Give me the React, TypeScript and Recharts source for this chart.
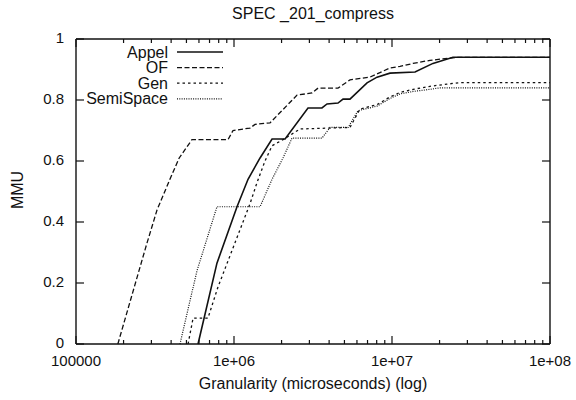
import { LineChart, Line, XAxis, YAxis, ReferenceLine } from 'recharts';

// granularity (microseconds) -> MMU
const appelG = [592000, 780000, 1045000, 1227000, 1462000, 1741000, 2105000, 2940000, 3603000, 3880000, 4552000, 4898000, 5420000, 6950000, 8040000, 9710000, 13990000, 18160000, 24320000, 100000000];
const appelMmu = [0, 0.265, 0.45, 0.54, 0.61, 0.672, 0.672, 0.774, 0.774, 0.787, 0.79, 0.803, 0.803, 0.856, 0.875, 0.888, 0.892, 0.92, 0.94, 0.94];

const ofG = [184000, 281000, 326000, 393000, 450000, 542000, 916000, 986000, 1263000, 1358000, 1690000, 2506000, 3119000, 3404000, 4552000, 5420000, 7260000, 9710000, 11240000, 13590000, 17400000, 25790000, 100000000];
const ofMmu = [0, 0.33, 0.44, 0.54, 0.61, 0.67, 0.67, 0.7, 0.708, 0.72, 0.725, 0.816, 0.823, 0.839, 0.839, 0.866, 0.875, 0.905, 0.91, 0.92, 0.93, 0.94, 0.94];

const genG = [512000, 551000, 684000, 792000, 1263000, 1400000, 1571000, 1741000, 2043000, 2618000, 5420000, 6262000, 8040000, 9710000, 11240000, 13590000, 17400000, 22280000, 26920000, 100000000];
const genMmu = [0, 0.085, 0.085, 0.187, 0.46, 0.53, 0.6, 0.65, 0.67, 0.705, 0.71, 0.77, 0.785, 0.81, 0.825, 0.835, 0.845, 0.852, 0.857, 0.857];

const semiG = [455000, 583000, 780000, 1462000, 1741000, 2043000, 2328000, 3603000, 4057000, 5272000, 6095000, 8040000, 9710000, 11240000, 13590000, 17400000, 20140000, 100000000];
const semiMmu = [0, 0.24, 0.45, 0.45, 0.54, 0.61, 0.675, 0.675, 0.71, 0.71, 0.765, 0.78, 0.805, 0.82, 0.828, 0.835, 0.84, 0.84];

const xMajorTicks = [100000, 1000000, 10000000, 100000000];
const xMajorLabels = ['100000', '1e+06', '1e+07', '1e+08'];
const yTicks = [0, 0.2, 0.4, 0.6, 0.8, 1];
const yLabels = ['0', '0.2', '0.4', '0.6', '0.8', '1'];

const toPoints = (g: number[], m: number[]) => g.map((v, i) => ({ g: v, mmu: m[i] }));

const series = [
  { name: 'Appel', data: toPoints(appelG, appelMmu), dash: undefined, width: 1.6 },
  { name: 'OF', data: toPoints(ofG, ofMmu), dash: '5 2.5', width: 1.3 },
  { name: 'Gen', data: toPoints(genG, genMmu), dash: '2.5 3', width: 1.3 },
  { name: 'SemiSpace', data: toPoints(semiG, semiMmu), dash: '1 1.3', width: 1.2 },
];

// minor log ticks 2..9 in each decade
const xMinorTicks = xMajorTicks.slice(0, 3).flatMap((d) => [2, 3, 4, 5, 6, 7, 8, 9].map((k) => d * k));

const W = 576;
const H = 400;
const PLOT_LEFT = 76;
const PLOT_RIGHT = 550;
const PLOT_TOP = 39;
const PLOT_BOTTOM = 344;
const FONT = '"Liberation Sans", Arial, Helvetica, sans-serif';
const INK = '#111';

const XTick = (props: any) => {
  const { x, payload } = props;
  const idx = xMajorTicks.indexOf(payload.value);
  const len = idx >= 0 ? 8 : 4;
  return (
    <g>
      <line x1={x} x2={x} y1={PLOT_BOTTOM} y2={PLOT_BOTTOM - len} stroke={INK} strokeWidth={1.2} />
      <line x1={x} x2={x} y1={PLOT_TOP} y2={PLOT_TOP + len} stroke={INK} strokeWidth={1.2} />
      {idx >= 0 && (
        <text x={x} y={PLOT_BOTTOM + 21.5} textAnchor="middle" fontSize={15} fontFamily={FONT} fill={INK}>
          {xMajorLabels[idx]}
        </text>
      )}
    </g>
  );
};

const YTick = (props: any) => {
  const { y, payload } = props;
  const idx = yTicks.indexOf(payload.value);
  return (
    <g>
      <line x1={PLOT_LEFT} x2={PLOT_LEFT + 8} y1={y} y2={y} stroke={INK} strokeWidth={1.2} />
      <line x1={PLOT_RIGHT} x2={PLOT_RIGHT - 8} y1={y} y2={y} stroke={INK} strokeWidth={1.2} />
      <text x={PLOT_LEFT - 12} y={y + 4} textAnchor="end" fontSize={15} fontFamily={FONT} fill={INK}>
        {yLabels[idx]}
      </text>
    </g>
  );
};

// gnuplot-style key in the top-left corner of the plot
const KEY_TEXT_X = 168;
const KEY_LINE_X1 = 177;
const KEY_LINE_X2 = 223;
const KEY_TOP = 52;
const KEY_STEP = 15.6;

export default function App() {
  return (
    <div style={{ position: 'absolute', left: 0, top: 0, width: W, height: H, background: '#fff' }}>
      <LineChart width={W} height={H} margin={{ top: PLOT_TOP, right: W - PLOT_RIGHT, bottom: 0, left: 0 }}>
        <XAxis
          dataKey="g"
          type="number"
          scale="log"
          domain={[100000, 100000000]}
          allowDataOverflow
          ticks={[...xMajorTicks, ...xMinorTicks]}
          interval={0}
          tick={<XTick />}
          tickLine={false}
          axisLine={{ stroke: INK, strokeWidth: 1.4 }}
          height={H - PLOT_BOTTOM}
        />
        <YAxis
          type="number"
          domain={[0, 1]}
          ticks={yTicks}
          interval={0}
          tick={<YTick />}
          tickLine={false}
          axisLine={{ stroke: INK, strokeWidth: 1.4 }}
          width={PLOT_LEFT}
        />
        <ReferenceLine y={1} stroke={INK} strokeWidth={1.4} />
        <ReferenceLine x={100000000} stroke={INK} strokeWidth={1.4} />
        {series.map((s) => (
          <Line
            key={s.name}
            data={s.data}
            dataKey="mmu"
            name={s.name}
            type="linear"
            stroke={INK}
            strokeWidth={s.width}
            strokeDasharray={s.dash}
            dot={false}
            activeDot={false}
            isAnimationActive={false}
          />
        ))}
        <g>
          {series.map((s, i) => {
            const cy = KEY_TOP + i * KEY_STEP;
            return (
              <g key={s.name}>
                <text x={KEY_TEXT_X} y={cy + 5.5} textAnchor="end" fontSize={16} fontFamily={FONT} fill={INK}>
                  {s.name}
                </text>
                <line x1={KEY_LINE_X1} x2={KEY_LINE_X2} y1={cy} y2={cy} stroke={INK} strokeWidth={s.width} strokeDasharray={s.dash} />
              </g>
            );
          })}
        </g>
        <text x={(PLOT_LEFT + PLOT_RIGHT) / 2} y={19} textAnchor="middle" fontSize={16} fontFamily={FONT} fill={INK}>
          SPEC _201_compress
        </text>
        <text x={(PLOT_LEFT + PLOT_RIGHT) / 2} y={389} textAnchor="middle" fontSize={16} fontFamily={FONT} fill={INK}>
          Granularity (microseconds) (log)
        </text>
        <text x={23} y={190} textAnchor="middle" fontSize={16} fontFamily={FONT} fill={INK} transform="rotate(-90, 23, 190)">
          MMU
        </text>
      </LineChart>
    </div>
  );
}
